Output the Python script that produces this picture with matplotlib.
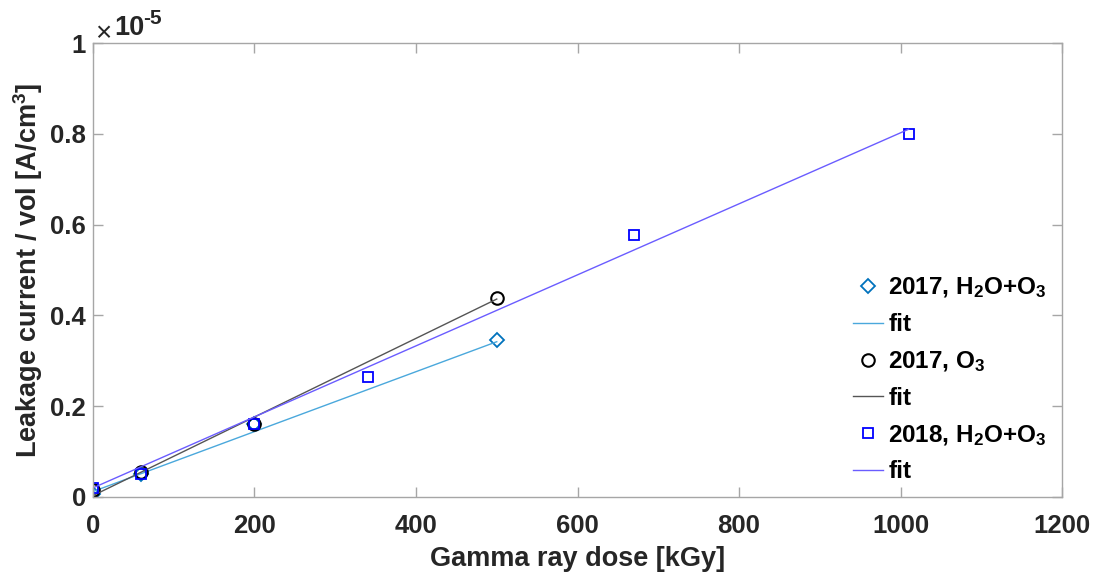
import matplotlib
matplotlib.use("Agg")
import matplotlib.pyplot as plt
from matplotlib.ticker import FuncFormatter

plt.rcParams['font.family'] = ['Liberation Sans', 'DejaVu Sans']
plt.rcParams['font.weight'] = 'bold'
plt.rcParams['mathtext.fontset'] = 'custom'
plt.rcParams['mathtext.rm'] = 'Liberation Sans:bold'
plt.rcParams['mathtext.bf'] = 'Liberation Sans:bold'
plt.rcParams['mathtext.it'] = 'Liberation Sans:bold'
plt.rcParams['mathtext.default'] = 'bf'

# Data (leakage current per volume, A/cm^3)
dose_2017_h2o = [0, 60, 200, 500]
cur_2017_h2o = [0.6e-7, 0.5e-6, 1.6e-6, 3.45e-6]
fit_x_2017_h2o = [0, 500]
fit_y_2017_h2o = [0.12e-6, 3.42e-6]

dose_2017_o3 = [0, 60, 200, 500]
cur_2017_o3 = [0.15e-6, 0.55e-6, 1.6e-6, 4.38e-6]
fit_x_2017_o3 = [0, 500]
fit_y_2017_o3 = [0.03e-6, 4.36e-6]

dose_2018 = [0, 60, 200, 340, 670, 1010]
cur_2018 = [0.2e-6, 0.5e-6, 1.6e-6, 2.65e-6, 5.77e-6, 8.0e-6]
fit_x_2018 = [0, 1010]
fit_y_2018 = [0.2e-6, 8.1e-6]

xticks = [0, 200, 400, 600, 800, 1000, 1200]
yticks = [0, 0.2e-5, 0.4e-5, 0.6e-5, 0.8e-5, 1.0e-5]

fig = plt.figure(figsize=(10.95, 5.75), dpi=100)
ax = fig.add_axes([0.0849, 0.1357, 0.885, 0.7895])

c_dia = '#0072BD'
ax.plot(dose_2017_h2o, cur_2017_h2o, linestyle='none', marker='D', markersize=7.5,
        markerfacecolor='none', markeredgecolor=c_dia, markeredgewidth=1.3,
        label=r'2017, H$_2$O+O$_3$')
ax.plot(fit_x_2017_h2o, fit_y_2017_h2o, color='#4AA8DC', linewidth=1.0, label='fit')
ax.plot(dose_2017_o3, cur_2017_o3, linestyle='none', marker='o', markersize=9,
        markerfacecolor='none', markeredgecolor='black', markeredgewidth=1.5,
        label=r'2017, O$_3$')
ax.plot(fit_x_2017_o3, fit_y_2017_o3, color='#555555', linewidth=1.0, label='fit')
ax.plot(dose_2018, cur_2018, linestyle='none', marker='s', markersize=6.5,
        markerfacecolor='none', markeredgecolor='#0000FF', markeredgewidth=1.3,
        label=r'2018, H$_2$O+O$_3$')
ax.plot(fit_x_2018, fit_y_2018, color='#6A5CFF', linewidth=1.0, label='fit')

ax.set_xlim(0, 1200)
ax.set_ylim(0, 1e-5)
ax.set_xticks(xticks)
ax.set_yticks(yticks)
ax.yaxis.set_major_formatter(FuncFormatter(lambda v, p: ('%g' % round(v / 1e-5, 3))))

for s in ax.spines.values():
    s.set_color('#a6a6a6')
    s.set_linewidth(1.0)
ax.tick_params(direction='in', length=7, width=1.0, color='#a6a6a6',
               top=True, right=True, labelsize=18.5, labelcolor='#262626')
ax.tick_params(axis='x', pad=12)
ax.tick_params(axis='y', pad=5)
for lab in ax.get_xticklabels() + ax.get_yticklabels():
    lab.set_fontweight('bold')

ax.set_xlabel('Gamma ray dose [kGy]', fontsize=19.5, fontweight='bold', color='#262626', labelpad=6)
ax.set_ylabel(r'Leakage current / vol [A/cm$^3$]', fontsize=19.5, fontweight='bold',
              color='#262626', labelpad=4)

# MATLAB-style exponent label
fig.text(0.087, 0.928, '\u00d7', fontsize=20, fontweight='normal', color='#262626',
         ha='left', va='baseline')
fig.text(0.104, 0.939, '10', fontsize=19.5, fontweight='bold', color='#262626',
         ha='left', va='baseline')
fig.text(0.1305, 0.958, '-5', fontsize=15, fontweight='bold', color='#262626',
         ha='left', va='baseline')

leg = ax.legend(loc='center left', bbox_to_anchor=(0.779, 0.340),
                bbox_transform=fig.transFigure, frameon=False,
                prop={'weight': 'bold', 'size': 17.5}, handlelength=1.25,
                handletextpad=0.2, labelspacing=0.53, borderpad=0, borderaxespad=0)

fig.savefig('out.png', dpi=100)
